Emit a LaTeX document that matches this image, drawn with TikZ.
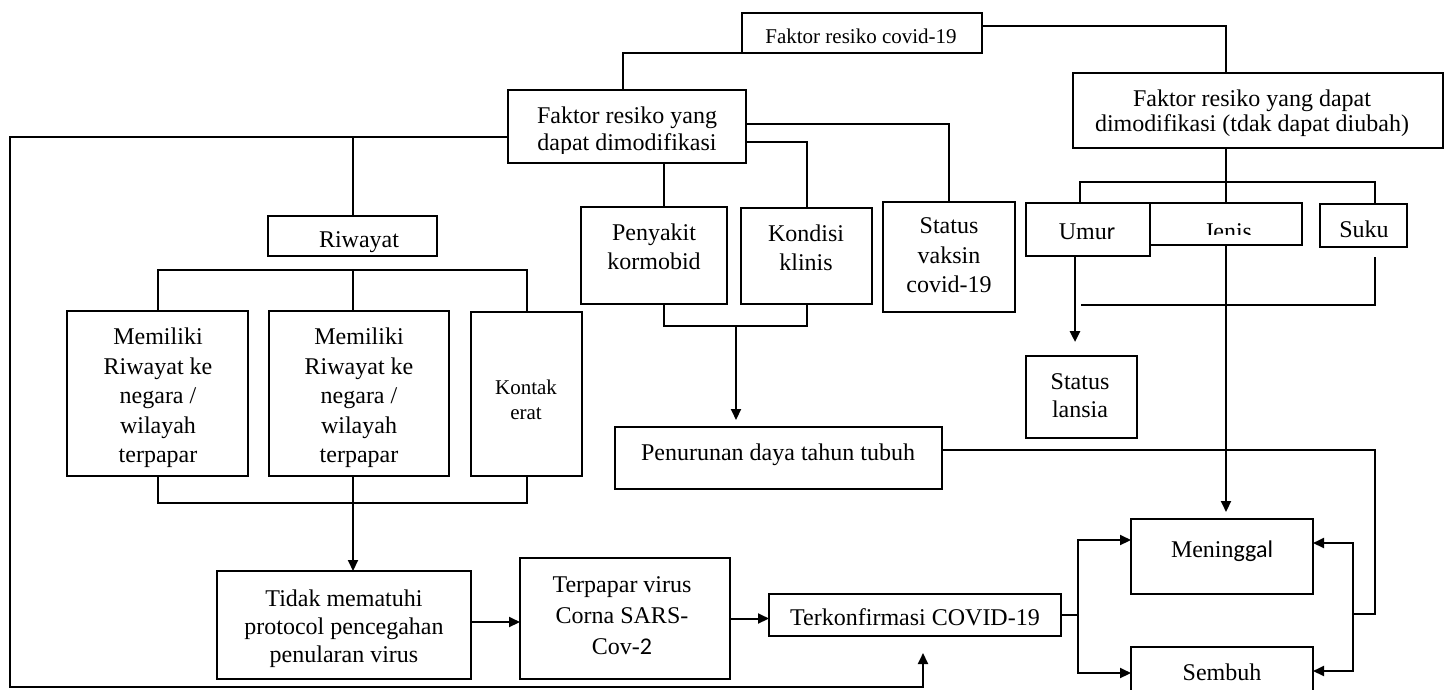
\documentclass[tikz,border=0pt]{standalone}
\usepackage{fontspec}
\setmainfont{Liberation Serif}
\newfontfamily\carl{Carlito}
\usetikzlibrary{arrows.meta,calc}
\begin{document}
\begin{tikzpicture}[x=1pt,y=-1pt,
  bx/.style={draw, line width=2.4pt, fill=white, inner sep=0pt, outer sep=0pt, anchor=north west},
  tx/.style={font=\fontsize{24}{29}\selectfont, align=center, inner sep=0pt},
  ln/.style={line width=2pt},
  arr/.style={ln, -{Triangle[length=11pt,width=10pt]}}]
\useasboundingbox (0,0) rectangle (1450,689);
\clip (0,0) rectangle (1450,689);

% boxes
\node[bx, minimum width=240pt, minimum height=40pt] (covid) at (742,13) {};
\node[bx, minimum width=238pt, minimum height=73pt] (fmod) at (508,90) {};
\node[bx, minimum width=370pt, minimum height=75pt] (nmod) at (1073,73) {};
\node[bx, minimum width=169pt, minimum height=40pt] (riw) at (268,216) {};
\node[bx, minimum width=181pt, minimum height=165pt] (mem1) at (67,311) {};
\node[bx, minimum width=180pt, minimum height=165pt] (mem2) at (269,311) {};
\node[bx, minimum width=111pt, minimum height=164pt] (kon) at (471,312) {};
\node[bx, minimum width=146pt, minimum height=97pt] (pen) at (581,207) {};
\node[bx, minimum width=131pt, minimum height=96pt] (kond) at (741,208) {};
\node[bx, minimum width=132pt, minimum height=110pt] (vak) at (883,202) {};
\node[bx, minimum width=152pt, minimum height=42pt] (jen) at (1150,203) {};
\node[bx, minimum width=124pt, minimum height=53pt] (umur) at (1026,203) {};
\node[bx, minimum width=87pt, minimum height=43pt] (suku) at (1320,204) {};
\node[bx, minimum width=111pt, minimum height=82pt] (lans) at (1026,356) {};
\node[bx, minimum width=327pt, minimum height=62pt] (pnr) at (615,427) {};
\node[bx, minimum width=254pt, minimum height=108pt] (tdk) at (217,571) {};
\node[bx, minimum width=210pt, minimum height=121pt] (tpp) at (520,558) {};
\node[bx, minimum width=292pt, minimum height=42pt] (tkf) at (769,594) {};
\node[bx, minimum width=182pt, minimum height=75pt] (men) at (1131,519) {};
\node[bx, minimum width=182pt, minimum height=60pt] (smb) at (1131,647) {};

% texts
\node[tx, font=\fontsize{21}{25}\selectfont] (covidt) at (861,36) {Faktor resiko covid-19};
\begin{scope}
\clip (508,90) rectangle (746,153);
\node[tx, font=\fontsize{24}{27}\selectfont] (fmodt) at (627,131) {Faktor resiko yang\\dapat dimodifikasi};
\end{scope}
\node[tx, font=\fontsize{24}{25}\selectfont] (nmodt) at (1252,113) {Faktor resiko yang dapat\\dimodifikasi (tdak dapat diubah)};
\node[tx, anchor=base] (riwt) at (359,247) {Riwayat};
\node[tx, font=\fontsize{24}{29.5}\selectfont] (mem1t) at (158,398) {Memiliki\\Riwayat ke\\negara /\\wilayah\\terpapar};
\node[tx, font=\fontsize{24}{29.5}\selectfont] (mem2t) at (359,398) {Memiliki\\Riwayat ke\\negara /\\wilayah\\terpapar};
\node[tx, font=\fontsize{21}{25}\selectfont] (kont) at (526,400) {Kontak\\erat};
\node[tx] (pent) at (654,247) {Penyakit\\kormobid};
\node[tx] (kondt) at (806,248) {Kondisi\\klinis};
\node[tx, font=\fontsize{24}{29.5}\selectfont] (vakt) at (949,255.5) {Status\\vaksin\\covid-19};
\node[tx, anchor=base] (umurt) at (1087,239) {Umu{\carl r}};
\begin{scope}
\clip (1152,203) rectangle (1300,234);
\node[tx, anchor=base] (jent) at (1228,239) {Jenis};
\end{scope}
\node[tx, anchor=base] (sukut) at (1364,237) {Suku};
\node[tx, font=\fontsize{24}{28}\selectfont] (lanst) at (1080,396) {Status\\lansia};
\node[tx, anchor=base] (pnrt) at (778,460) {Penurunan daya tahun tubuh};
\node[tx, font=\fontsize{24}{28}\selectfont] (tdkt) at (344,629) {Tidak mematuhi\\protocol pencegahan\\penularan virus};
\node[tx, font=\fontsize{24}{31}\selectfont] (tppt) at (622,616) {Terpapar virus\\Corna SARS-\\Cov-{\carl 2}};
\node[tx, anchor=base] (tkft) at (915,625) {Terkonfirmasi COVID-19};
\node[tx, anchor=base] (ment) at (1222,557) {Menin{\carl ggal}};
\node[tx, anchor=base] (smbt) at (1222,680) {Sembuh};

% connectors: top
\draw[ln] (covid.south west) -| ([xshift=-4pt]fmod.north);
\draw[ln] ([yshift=7pt]covid.east) -| ([xshift=-32pt]nmod.north);
\draw[ln] ([xshift=-32pt]nmod.south) -- ++(0,34) coordinate (b1);
\draw[ln] ([xshift=-8pt]umur.north) |- (b1) -| ([xshift=11pt]suku.north);
\draw[ln] (b1) -- (b1 |- jen.north);
\draw[arr, shorten >=7pt] (jen.south) -- (jen.south |- men.north);
\draw[arr, line width=2.6pt, shorten >=14pt] ([xshift=-13pt]umur.south) -- ([xshift=-13pt]umur.south |- lans.north);
\draw[ln] ([xshift=11pt,yshift=-10pt]suku.south) -- ++(0,48) -- ++(-294,0);

% modifiable branch
\draw[ln] ([xshift=10pt]pen.north) -- ([xshift=10pt]pen.north |- fmod.south);
\draw[ln] ([yshift=-15.5pt]fmod.east) -| (kond.north);
\draw[ln] ([yshift=2.5pt]fmod.east) -| (vak.north);
\draw[ln] ([xshift=10pt]pen.south) -- ++(0,22) -| (kond.south);
\coordinate (j1) at (736,326);
\draw[arr, shorten >=7pt] (j1) -- (j1 |- pnr.north);

% outer loop
\coordinate (c1) at (10,137);
\coordinate (c2) at (10,687);
\draw[arr, shorten >=17pt] ([yshift=-10.5pt]fmod.west) -- (c1) -- (c2) -| ([xshift=8pt]tkf.south);
\draw[ln] (riw.north) -- (riw.north |- c1);

% riwayat
\draw[ln] (mem1.north) -- ++(0,-41) -| (kon.north);
\draw[ln] ([xshift=-6pt]mem2.north) -- ++(0,-41);
\draw[ln] (mem1.south) -- ++(0,27) -| (kon.south);
\draw[arr] ([xshift=-6pt]mem2.south) -- ([xshift=-6pt]mem2.south |- tdk.north);

% bottom chain
\draw[arr] ([yshift=3pt]tdk.east) -- ([yshift=3pt]tdk.east -| tpp.west);
\draw[arr] (tpp.east) -- (tpp.east -| tkf.west);
\draw[ln] (tkf.east) -- ++(17,0) coordinate (j2);
\draw[arr] (j2) |- ([yshift=16.5pt]men.west);
\draw[arr] (j2) |- ([yshift=4pt]smb.west);

% right loop
\coordinate (r1) at (1375,450);
\coordinate (r2) at (1375,614);
\coordinate (j3) at (1353,614);
\draw[ln] ([yshift=8pt]pnr.east) -- (r1) -- (r2) -- (j3);
\draw[arr] (j3) |- ([yshift=13.5pt]men.east);
\draw[arr] (j3) |- ([yshift=6pt]smb.east);
\end{tikzpicture}
\end{document}
